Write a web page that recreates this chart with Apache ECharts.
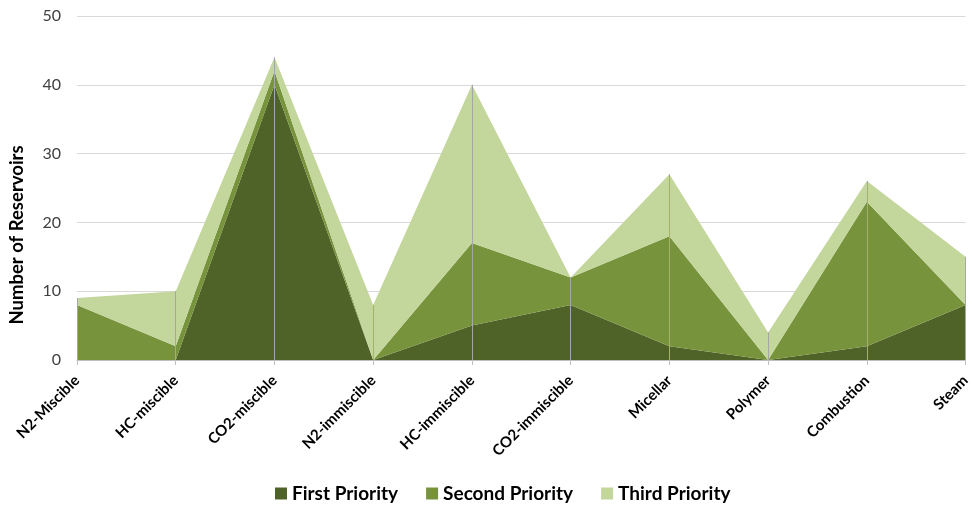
<!DOCTYPE html>
<html>
<head>
<meta charset="utf-8">
<script src="https://cdn.jsdelivr.net/npm/echarts@6/dist/echarts.min.js"></script>
<style>html,body{margin:0;padding:0;background:#fff;}#c{width:973px;height:506px;}</style>
</head>
<body>
<div id="c"></div>
<script>
const categories = ['N2-Miscible','HC-miscible','CO2-miscible','N2-immiscible','HC-immiscible','CO2-immiscible','Micellar','Polymer','Combustion','Steam'];
const firstPriority  = [0, 0, 40, 0, 5, 8, 2, 0, 2, 8];
const secondPriority = [8, 2, 2, 0, 12, 4, 16, 0, 21, 0];
const thirdPriority  = [1, 8, 2, 8, 23, 0, 9, 4, 3, 7];
const yTicks = [0, 10, 20, 30, 40, 50];

const totals = categories.map((_, i) => firstPriority[i] + secondPriority[i] + thirdPriority[i]);
const dropLines = totals.map((t, i) => [{coord: [i, 0]}, {coord: [i, t]}]);

const font = 'Lato, "Open Sans", sans-serif';
const chart = echarts.init(document.getElementById('c'));
function areaSeries(name, data, color) {
  return {
    name, type: 'line', stack: 'all', data,
    showSymbol: false, symbol: 'none',
    lineStyle: {width: 0}, areaStyle: {color, opacity: 1},
    itemStyle: {color}, emphasis: {disabled: true}
  };
}
const s3 = areaSeries('Third Priority', thirdPriority, '#C3D69B');
s3.markLine = {
  silent: true, symbol: 'none', animation: false,
  label: {show: false},
  lineStyle: {color: '#A6A6A6', width: 1, type: 'solid'},
  data: dropLines
};
chart.setOption({
  animation: false,
  textStyle: {fontFamily: font},
  grid: {left: 77, right: 5, top: 16, bottom: 146},
  legend: {
    top: 479, left: 270, itemWidth: 12, itemHeight: 12, itemGap: 28,
    icon: 'rect',
    textStyle: {fontFamily: font, fontSize: 19, fontWeight: 'bold', color: '#000'},
    data: ['First Priority', 'Second Priority', 'Third Priority']
  },
  xAxis: {
    type: 'category', data: categories, boundaryGap: false,
    axisLine: {lineStyle: {color: '#BFBFBF', width: 1}},
    axisTick: {show: true, length: 5, lineStyle: {color: '#BFBFBF'}},
    axisLabel: {rotate: 45, fontFamily: font, fontSize: 15, fontWeight: 'bold', color: '#000', margin: 18, interval: 0}
  },
  yAxis: {
    type: 'value', min: yTicks[0], max: yTicks[yTicks.length - 1], interval: 10,
    name: 'Number of Reservoirs', nameLocation: 'middle', nameGap: 50,
    nameTextStyle: {fontFamily: font, fontSize: 18.5, fontWeight: 'bold', color: '#000', padding: [0, 94, 0, 0]},
    axisLine: {show: false}, axisTick: {show: false},
    axisLabel: {fontFamily: font, fontSize: 16, color: '#404040', margin: 16},
    splitLine: {lineStyle: {color: '#D9D9D9', width: 1}}
  },
  series: [
    areaSeries('First Priority', firstPriority, '#4F6228'),
    areaSeries('Second Priority', secondPriority, '#77933C'),
    s3
  ]
});
</script>
</body>
</html>
